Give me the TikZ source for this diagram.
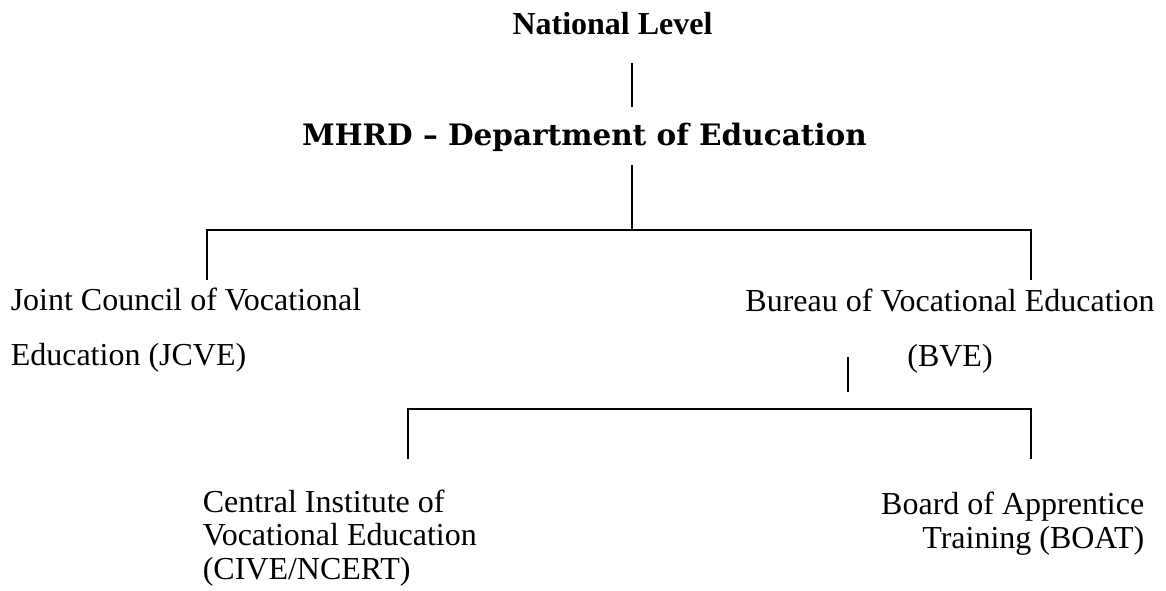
\documentclass[tikz,border=0pt]{standalone}
\usepackage{fontspec}
\setmainfont{Liberation Serif}
\newfontfamily\slabfont{DejaVu Serif}
\usetikzlibrary{positioning}

\begin{document}
\begin{tikzpicture}[x=0.5pt,y=-0.5pt,line width=0.75pt,
    head/.style={inner sep=0pt,font=\fontsize{16}{19}\selectfont\bfseries},
    dept/.style={inner sep=0pt,font=\fontsize{14.75}{18}\selectfont\slabfont\bfseries},
    unit/.style={inner sep=0pt,font=\fontsize{16}{27.5}\selectfont},
    subunit/.style={inner sep=0pt,font=\fontsize{16}{16.75}\selectfont}]
    \useasboundingbox (0,0) rectangle (1166,590);
    % levels (base anchor = last line)
    \node[head,anchor=base] (nat) at (612.5,34) {National Level};
    \node[dept,anchor=base] (mhrd) at (584.5,145) {MHRD – Department of Education};
    \node[unit,anchor=base west,align=left] (jcve) at (10,365)
        {Joint Council of Vocational\\Education (JCVE)};
    \node[unit,anchor=base,align=center] (bve) at (950,366)
        {Bureau of Vocational Education\\(BVE)};
    \node[subunit,anchor=base west,align=left] (cive) at (202,579)
        {Central Institute of\\Vocational Education\\(CIVE/NCERT)};
    \node[subunit,anchor=base east,align=right] (boat) at (1145,548)
        {Board of Apprentice\\Training (BOAT)};
    % forks
    \coordinate (fork1) at (632,230);
    \coordinate (jcvetip) at (207,280);
    \coordinate (bvetip) at (1031,280);
    \coordinate (bvestem) at (848,357);
    \coordinate (fork2) at (848,409);
    \coordinate (civetip) at (408,459);
    \coordinate (boattip) at (1031,459);
    % connectors
    \draw[shorten <=14pt,shorten >=7.3pt] (nat.south -| fork1) -- (mhrd.north -| fork1);
    \draw[shorten <=6.5pt] (mhrd.south -| fork1) -- (fork1);
    \draw (jcvetip) |- (fork1) -| (bvetip);
    \draw[shorten >=8.5pt] (bvestem) -- (fork2);
    \draw (civetip) |- (fork2) -| (boattip);
\end{tikzpicture}
\end{document}
